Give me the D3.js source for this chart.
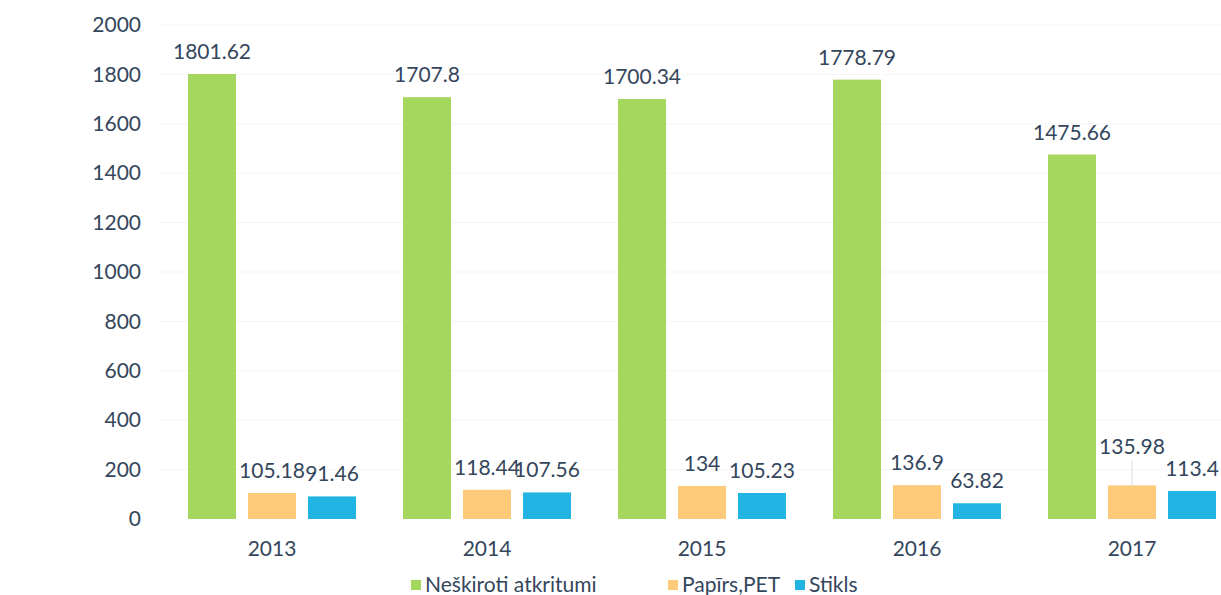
<!DOCTYPE html>
<html>
<head>
<meta charset="utf-8">
<script src="https://cdn.jsdelivr.net/npm/d3@7"></script>
<style>
  body { margin: 0; background: #fff; }
  svg { font-family: Lato, "Open Sans", sans-serif; }
</style>
</head>
<body>
<svg id="chart"></svg>
<script>
// Bar chart: waste amounts by year

const years = ["2013", "2014", "2015", "2016", "2017"];
const seriesNames = ["Neškiroti atkritumi", "Papīrs,PET", "Stikls"];
const neskiroti = [1801.62, 1707.8, 1700.34, 1778.79, 1475.66];
const papirs = [105.18, 118.44, 134, 136.9, 135.98];
const stikls = [91.46, 107.56, 105.23, 63.82, 113.4];
const yTicks = [0, 200, 400, 600, 800, 1000, 1200, 1400, 1600, 1800, 2000];

const seriesValues = [neskiroti, papirs, stikls];
const colors = ["#a5d75f", "#fdca7a", "#22b5e4"];
const textColor = "#34465c";
const fontSize = "21px";

const width = 1221;
const height = 595;

const svg = d3.select("#chart")
  .attr("width", width)
  .attr("height", height);

// scales
const x0 = d3.scaleBand()
  .domain(years)
  .range([164.5, 164.5 + 215 * years.length]);

const x1 = d3.scaleBand()
  .domain(seriesNames)
  .range([23.5, 191.5])
  .paddingInner(0.2);

const y = d3.scaleLinear()
  .domain([0, 2000])
  .range([519, 25]);

// faint gridlines
svg.append("g")
  .selectAll("line")
  .data(yTicks.slice(1))
  .enter()
  .append("line")
  .attr("x1", 160)
  .attr("x2", width)
  .attr("y1", d => y(d))
  .attr("y2", d => y(d))
  .style("stroke", "#f5f5f5");

// y axis labels
const yAxis = svg.append("g")
  .attr("transform", "translate(141,0)")
  .call(d3.axisLeft(y).tickValues(yTicks).tickFormat(d3.format("d")).tickSize(0).tickPadding(0));
yAxis.select(".domain").remove();
yAxis.selectAll("text")
  .style("font-family", "Lato, sans-serif")
  .style("font-size", fontSize)
  .style("fill", textColor);

// x axis labels
const xAxis = svg.append("g")
  .attr("transform", "translate(0,541)")
  .call(d3.axisBottom(x0).tickSize(0).tickPadding(0));
xAxis.select(".domain").remove();
xAxis.selectAll("text")
  .attr("dy", "0.71em")
  .style("font-family", "Lato, sans-serif")
  .style("font-size", fontSize)
  .style("fill", textColor);

// bars
const rows = years.map((yr, i) => ({
  year: yr,
  values: seriesNames.map((s, j) => ({ series: s, j: j, value: seriesValues[j][i] }))
}));

const groups = svg.selectAll(".group")
  .data(rows)
  .enter()
  .append("g")
  .attr("class", "group")
  .attr("transform", d => `translate(${x0(d.year)},0)`);

groups.selectAll("rect")
  .data(d => d.values)
  .enter()
  .append("rect")
  .attr("x", d => x1(d.series))
  .attr("y", d => y(d.value))
  .attr("width", x1.bandwidth())
  .attr("height", d => y(0) - y(d.value))
  .style("fill", d => colors[d.j]);

// value labels (the 2017 Papīrs,PET label was lifted with a leader line)
groups.each(function (row) {
  const g = d3.select(this);
  row.values.forEach(d => {
    const cx = x1(d.series) + x1.bandwidth() / 2;
    const lifted = row.year === "2017" && d.j === 1;
    const ty = y(d.value) - (lifted ? 31 : 15);
    if (lifted) {
      g.append("line")
        .attr("x1", cx).attr("x2", cx)
        .attr("y1", ty + 6).attr("y2", y(d.value))
        .style("stroke", "#dcdcdc");
    }
    g.append("text")
      .attr("x", cx)
      .attr("y", ty)
      .style("text-anchor", "middle")
      .style("font-size", fontSize)
      .style("fill", textColor)
      .text(d.value);
  });
});

// legend
const legendX = [411, 668, 795];
const legend = svg.append("g")
  .selectAll(".legend-item")
  .data(seriesNames)
  .enter()
  .append("g")
  .attr("class", "legend-item")
  .attr("transform", (d, i) => `translate(${legendX[i]},585)`);

legend.append("rect")
  .attr("x", 0)
  .attr("y", -5)
  .attr("width", 10)
  .attr("height", 10)
  .style("fill", (d, i) => colors[i]);

legend.append("text")
  .attr("x", 14)
  .attr("dy", "0.35em")
  .style("font-size", fontSize)
  .style("fill", textColor)
  .text(d => d);
</script>
</body>
</html>
